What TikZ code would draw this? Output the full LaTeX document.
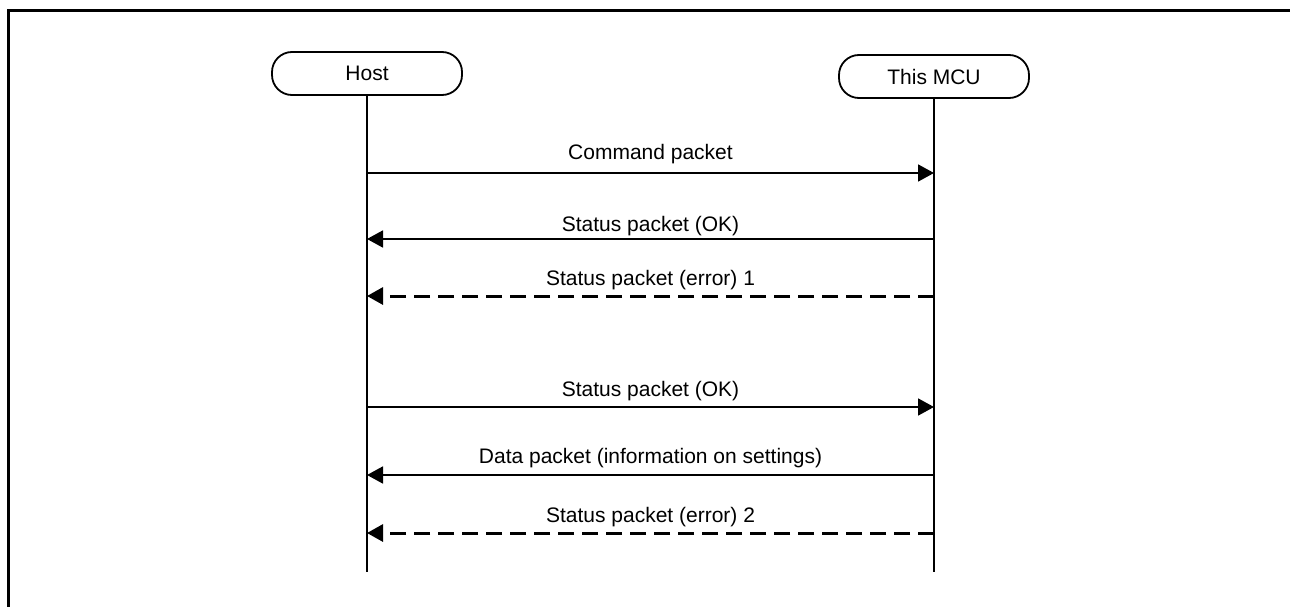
\documentclass[tikz,border=0pt]{standalone}
\usepackage{fontspec}
\setmainfont{Liberation Sans}
\usetikzlibrary{arrows.meta}
\begin{document}
\begin{tikzpicture}[x=1pt,y=-1pt,
  actor/.style={draw,line width=1.8pt,rounded corners=20pt,minimum width=190pt,minimum height=43pt,inner sep=0pt,font=\fontsize{21}{25}\selectfont},
  lifeline/.style={line width=2pt},
  msg/.style={line width=1.8pt,-{Triangle[length=16pt,width=17pt]}},
  errmsg/.style={line width=3pt,dash pattern=on 16pt off 8pt,-{Triangle[length=16pt,width=17pt]}},
  lbl/.style={anchor=base,inner sep=0pt,font=\fontsize{21}{25}\selectfont},
  frame/.style={line width=3pt}]
\useasboundingbox (0,0) rectangle (1290,607);
% frame
\coordinate (fA) at (1292,11);
\coordinate (fB) at (8,11);
\coordinate (fC) at (8,609);
\draw[frame] (fA) -- (fB) -- (fC);
% actors
\node[actor] (host) at (367,73.5) {Host};
\node[actor] (mcu) at (934,76.5) {This MCU};
\coordinate (hend) at (367,572);
\coordinate (mend) at (934,572);
\draw[lifeline] (host.south) -- (hend);
\draw[lifeline] (mcu.south) -- (mend);
% message points
\coordinate (h1) at (367,173); \coordinate (m1) at (934,173);
\coordinate (h2) at (367,239); \coordinate (m2) at (934,239);
\coordinate (h3) at (367,296); \coordinate (m3) at (934,296);
\coordinate (h4) at (367,407); \coordinate (m4) at (934,407);
\coordinate (h5) at (367,475); \coordinate (m5) at (934,475);
\coordinate (h6) at (367,533); \coordinate (m6) at (934,533);
% messages
\draw[msg] (h1) -- (m1);
\draw[msg] (m2) -- (h2);
\draw[errmsg] (m3) -- (h3);
\draw[msg] (h4) -- (m4);
\draw[msg] (m5) -- (h5);
\draw[errmsg] (m6) -- (h6);
% labels
\node[lbl] (l1) at (650.5,160) {Command packet};
\node[lbl] (l2) at (650.5,231) {Status packet (OK)};
\node[lbl] (l3) at (650.5,285) {Status packet (error) 1};
\node[lbl] (l4) at (650.5,396) {Status packet (OK)};
\node[lbl] (l5) at (650.5,463) {Data packet (information on settings)};
\node[lbl] (l6) at (650.5,522) {Status packet (error) 2};
\end{tikzpicture}
\end{document}
